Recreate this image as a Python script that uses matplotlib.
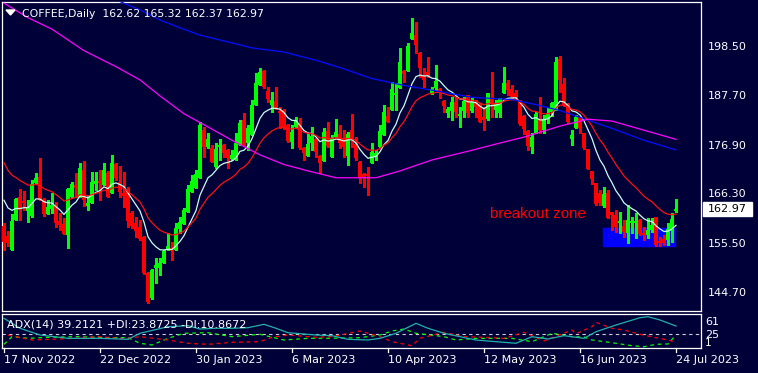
import matplotlib.pyplot as plt
from matplotlib.patches import Rectangle, Polygon
from matplotlib.lines import Line2D
import numpy as np

# COFFEE daily candles, 17 Nov 2022 .. 24 Jul 2023

opens = [
    159.4, 157.2, 154.1, 160.7, 165.7, 164.9, 162.7, 161.5, 168.8, 170.1,
    165.2, 162.0, 163.1, 164.0, 160.4, 159.8, 157.4, 165.7, 168.3, 165.7,
    171.6, 163.7, 164.4, 168.5, 169.2, 168.3, 171.0, 166.6, 172.9, 169.0,
    166.6, 167.2, 162.2, 160.0, 159.1, 157.0, 149.1, 143.6, 150.2, 150.2,
    151.3, 154.1, 154.5, 154.1, 158.7, 159.8, 162.4, 166.8, 167.7, 169.9,
    180.3, 176.6, 176.4, 172.3, 176.6, 177.1, 176.0, 174.0, 173.8, 177.1,
    182.5, 177.5, 179.3, 185.8, 190.2, 193.3, 188.9, 185.8, 186.7, 184.5,
    184.7, 181.4, 177.7, 181.0, 181.9, 176.4, 174.7, 177.5, 178.4, 174.7,
    173.6, 180.1, 174.4, 178.8, 179.5, 178.6, 174.7, 180.3, 177.3, 173.4,
    170.7, 170.7, 173.1, 174.4, 176.6, 179.3, 183.4, 184.7, 188.0, 189.5,
    193.3, 193.3, 200.2, 201.1, 197.2, 192.4, 193.0, 188.2, 189.5, 189.3,
    186.7, 184.1, 184.5, 186.5, 183.4, 184.5, 188.0, 184.5, 186.3, 186.0,
    183.2, 182.7, 187.3, 184.7, 184.1, 188.4, 190.6, 189.3, 188.4, 186.5,
    183.4, 180.1, 176.6, 179.7, 182.7, 180.3, 182.7, 184.3, 184.9, 195.9,
    190.4, 185.8, 178.4, 180.8, 183.2, 179.7, 176.2, 171.4, 168.8, 166.6,
    163.7, 166.6, 162.4, 161.8, 160.0, 159.4, 157.8, 160.0, 160.0, 160.7,
    157.8, 157.4, 158.5, 161.3, 156.1, 156.5, 156.3, 158.2, 162.62,
]
highs = [
    160.0, 158.3, 162.0, 165.4, 167.4, 167.1, 165.0, 169.4, 170.9, 174.2,
    165.5, 165.0, 166.6, 164.5, 162.2, 161.1, 167.7, 169.0, 170.9, 173.1,
    173.6, 166.1, 171.2, 171.2, 171.6, 173.1, 171.4, 174.9, 173.1, 172.5,
    171.2, 167.9, 162.6, 161.3, 160.7, 157.2, 149.3, 149.9, 152.3, 152.3,
    154.1, 157.8, 155.8, 160.0, 161.3, 163.3, 168.3, 170.5, 171.6, 182.1,
    181.0, 179.7, 177.0, 177.5, 178.4, 177.3, 176.2, 176.0, 179.7, 182.5,
    184.0, 181.4, 186.9, 192.8, 193.9, 193.5, 189.8, 188.7, 189.8, 185.4,
    184.9, 181.6, 181.4, 183.2, 183.0, 176.6, 179.7, 181.0, 178.6, 174.9,
    180.8, 182.1, 179.3, 182.7, 181.4, 180.3, 179.9, 183.8, 178.8, 173.6,
    170.9, 172.3, 177.5, 176.0, 181.4, 185.8, 185.4, 190.9, 190.6, 198.3,
    193.5, 199.4, 204.8, 204.0, 197.4, 193.9, 196.3, 189.8, 194.6, 189.5,
    186.9, 185.4, 187.6, 187.6, 185.4, 187.6, 188.0, 187.3, 186.9, 186.3,
    185.4, 188.5, 193.0, 186.9, 187.3, 194.1, 191.3, 190.2, 189.1, 186.9,
    183.6, 180.3, 179.7, 184.3, 187.6, 183.6, 185.2, 186.5, 196.3, 196.5,
    191.7, 186.3, 180.3, 183.6, 183.2, 179.7, 176.2, 171.4, 168.8, 167.2,
    167.9, 167.2, 162.4, 162.9, 162.4, 160.7, 163.9, 161.3, 162.2, 160.9,
    159.1, 161.1, 161.1, 161.3, 156.9, 157.4, 160.0, 162.2, 165.32,
]
lows = [
    154.1, 155.0, 154.1, 160.7, 160.7, 162.9, 160.2, 161.3, 168.8, 165.0,
    161.6, 162.0, 162.2, 159.2, 158.5, 157.6, 154.5, 165.7, 165.7, 165.7,
    163.7, 162.9, 164.4, 167.2, 165.0, 168.3, 165.7, 166.6, 169.4, 165.7,
    163.5, 159.2, 159.0, 157.0, 156.3, 148.9, 142.5, 143.4, 146.9, 148.6,
    151.3, 154.1, 151.9, 154.1, 157.8, 159.8, 162.4, 166.8, 167.7, 169.9,
    174.4, 176.4, 173.4, 172.0, 173.8, 174.4, 172.0, 173.8, 173.8, 177.1,
    176.8, 176.0, 179.3, 185.8, 190.2, 189.6, 186.5, 184.3, 185.0, 180.8,
    180.6, 177.7, 176.4, 181.0, 176.2, 173.8, 174.7, 176.0, 174.4, 170.9,
    173.6, 176.6, 174.4, 178.8, 176.4, 174.4, 172.7, 176.6, 173.8, 168.8,
    167.9, 166.1, 173.1, 173.8, 176.6, 179.3, 182.1, 184.7, 184.7, 189.5,
    190.9, 193.3, 200.2, 197.2, 191.9, 189.8, 191.9, 188.2, 189.1, 187.3,
    184.3, 183.2, 182.5, 183.2, 181.0, 183.2, 183.2, 184.3, 183.2, 182.1,
    180.3, 182.5, 183.2, 183.2, 183.2, 188.4, 188.0, 187.3, 186.9, 181.4,
    179.5, 176.0, 175.3, 179.7, 179.7, 179.7, 181.9, 183.4, 184.7, 188.7,
    185.6, 181.9, 177.1, 180.8, 179.7, 176.2, 171.8, 168.5, 164.0, 164.0,
    163.5, 161.1, 158.5, 158.0, 157.8, 157.0, 155.6, 157.8, 156.7, 157.4,
    156.3, 156.7, 158.0, 155.0, 155.0, 155.2, 155.2, 155.9, 162.37,
]
closes = [
    155.9, 155.7, 160.4, 165.2, 162.9, 164.3, 163.3, 168.5, 169.8, 165.0,
    162.0, 163.5, 164.0, 160.0, 159.6, 157.6, 167.4, 168.5, 167.7, 172.0,
    165.0, 164.4, 169.0, 169.2, 168.8, 171.6, 165.7, 173.1, 169.9, 166.8,
    165.9, 160.4, 159.4, 158.3, 156.5, 149.1, 142.7, 149.7, 150.8, 151.3,
    153.9, 155.0, 153.9, 158.9, 160.2, 162.9, 167.4, 169.2, 170.7, 181.4,
    176.6, 178.4, 173.4, 176.2, 177.1, 175.3, 174.2, 174.9, 177.5, 181.9,
    177.1, 180.8, 185.8, 190.6, 193.0, 189.8, 187.1, 186.9, 185.0, 184.1,
    180.8, 177.9, 179.9, 182.3, 176.4, 175.3, 177.3, 179.0, 175.5, 173.1,
    179.9, 176.8, 178.6, 179.9, 177.5, 176.6, 179.5, 178.2, 174.2, 169.9,
    170.1, 170.3, 175.5, 175.3, 180.1, 184.3, 182.1, 189.3, 188.5, 195.2,
    192.6, 198.7, 201.6, 198.9, 193.9, 191.3, 192.4, 189.3, 191.1, 188.5,
    185.6, 185.0, 186.5, 184.3, 183.8, 186.7, 184.1, 186.5, 185.4, 182.1,
    182.5, 188.4, 186.0, 186.3, 187.3, 190.6, 189.1, 187.6, 187.6, 181.7,
    180.6, 176.8, 178.8, 183.8, 180.3, 182.7, 184.1, 186.3, 195.2, 191.3,
    185.8, 182.1, 179.3, 183.2, 180.8, 176.4, 171.8, 169.6, 164.2, 164.4,
    166.3, 161.1, 161.8, 159.1, 160.4, 158.0, 160.7, 160.4, 160.4, 157.6,
    157.4, 158.5, 159.6, 155.2, 155.6, 155.6, 158.7, 160.9, 162.97,
]

# moving averages: EMA10 (white) and EMA20 (red) continue from the values on the left edge
fast_period, fast_seed = 10, 167.0
slow_period, slow_seed = 20, 175.0

# long moving averages at a few bars
blue_idx = [26, 28, 34, 39, 44, 49, 57, 62, 70, 78, 84, 92, 100, 108, 117, 127,
            133, 139, 146, 152, 160, 168]
blue_val = [209.5, 208.8, 206.6, 204.4, 202.7, 201.1, 199.4, 198.3, 197.4, 195.6,
            194.0, 191.6, 190.1, 188.9, 187.5, 187.0, 185.9, 184.6, 182.5, 180.7,
            178.1, 176.0]
magenta_idx = [0, 6, 12, 20, 28, 34, 39, 45, 50, 57, 64, 70, 76, 83, 93, 99, 107,
               116, 124, 130, 139, 146, 152, 160, 168]
magenta_val = [208.1, 204.9, 202.4, 197.7, 194.2, 191.3, 187.8, 183.9, 181.5, 178.1,
               174.9, 172.8, 171.4, 169.9, 169.9, 171.4, 173.8, 175.7, 177.5, 178.8,
               181.2, 182.7, 182.3, 180.3, 178.3]

# ADX(14) window
adx_idx = [0, 4, 9, 16, 24, 31, 34, 41, 46, 49, 53, 57, 61, 65, 68, 71, 78, 82, 86,
           91, 94, 98, 103, 106, 110, 114, 118, 123, 128, 132, 136, 140, 145, 148,
           153, 159, 161, 164, 168]
adx_val = [52.6, 35.3, 23.6, 17.8, 17.8, 16.1, 26.6, 38.0, 39.8, 34.0, 35.3, 35.3,
           36.3, 42.2, 35.3, 27.6, 23.6, 22.4, 16.1, 14.9, 17.8, 26.6, 43.9, 35.3,
           26.6, 20.7, 14.9, 12.0, 9.2, 20.7, 16.7, 22.4, 17.8, 29.3, 41.0, 53.7,
           55.4, 49.7, 39.2]
plus_idx = [0, 2, 6, 11, 18, 26, 31, 34, 37, 41, 45, 51, 57, 64, 70, 76, 82, 89, 94,
            97, 100, 103, 110, 113, 118, 127, 132, 137, 142, 145, 147, 152, 157, 160,
            163, 166, 168]
plus_val = [7.4, 20.7, 17.8, 19.6, 20.7, 19.0, 19.0, 9.2, 6.2, 17.8, 26.6, 27.6,
            20.7, 24.8, 14.9, 17.8, 18.0, 18.9, 23.6, 30.6, 34.0, 26.6, 20.7, 14.9,
            17.8, 17.8, 12.0, 26.6, 20.7, 20.0, 14.9, 10.2, 5.0, 3.3, 7.4, 8.0, 23.9]
minus_idx = [1, 7, 14, 18, 24, 30, 34, 41, 46, 51, 57, 64, 67, 71, 78, 82, 89, 94, 97,
             102, 104, 110, 115, 120, 125, 130, 135, 142, 143, 147, 148, 152, 155,
             159, 163, 166, 168]
minus_val = [23.6, 14.9, 16.7, 18.0, 20.7, 17.0, 20.7, 14.9, 9.2, 7.4, 10.9, 12.0,
             19.6, 23.6, 19.6, 20.7, 30.6, 20.7, 12.0, 5.0, 18.0, 28.3, 20.7, 19.6,
             17.8, 28.3, 13.2, 32.3, 26.0, 38.0, 45.7, 35.3, 32.3, 24.8, 18.9, 14.9,
             10.9]

price_ticks = [198.50, 187.70, 176.90, 166.30, 155.50, 144.70]
date_idx = [0, 24, 48, 72, 96, 120, 144, 168]
date_labels = ["17 Nov 2022", "22 Dec 2022", "30 Jan 2023", "6 Mar 2023",
               "10 Apr 2023", "12 May 2023", "16 Jun 2023", "24 Jul 2023"]

zone_start, zone_end = 149.7, 167.75
zone_low, zone_high = 155.0, 159.0

BG = "#000038"
W, H = 758, 373


def fx(px):
    return px / W


def fy(py):
    return 1 - py / H


def ema(values, period, seed):
    alpha = 2.0 / (period + 1)
    out = []
    prev = seed
    for v in values:
        prev = prev + alpha * (v - prev)
        out.append(prev)
    return out


plt.rcParams["font.family"] = "DejaVu Sans"
plt.rcParams["font.size"] = 8

fig = plt.figure(figsize=(W / 100, H / 100), dpi=100)
fig.patch.set_facecolor(BG)

ax = fig.add_axes([fx(2), fy(311), 699 / W, 309 / H])
sub = fig.add_axes([fx(2), fy(348), 699 / W, 34.5 / H])

for a in (ax, sub):
    a.set_facecolor(BG)
    a.set_xticks([])
    a.set_yticks([])
    for s in a.spines.values():
        s.set_color("white")
        s.set_linewidth(0.9)
    a.set_xlim(-0.5, 174.25)

ax.set_ylim(140.76, 208.34)
sub.set_ylim(1, 61)

# candles (drawn without smoothing so bodies stay 3 px wide like the terminal)
x = np.arange(len(closes))
o = np.array(opens)
c = np.array(closes)
up = c >= o
cols = np.where(up, "#00ff00", "#ff0000")
ax.vlines(x, lows, highs, colors=cols, linewidth=0.75, zorder=3,
          antialiased=False)
body_h = np.maximum(np.abs(c - o), 0.25)
ax.bar(x, body_h, bottom=np.minimum(o, c), width=0.78, color=cols,
       linewidth=0, zorder=4, antialiased=False)

# breakout zone
ax.add_patch(Rectangle((zone_start, zone_low), zone_end - zone_start,
                       zone_high - zone_low, color="#0000ff", zorder=2))
fig.text(fx(490), fy(218.5), "breakout zone", color="#ff0000", fontsize=10.9,
         family="Liberation Sans", va="baseline", ha="left")

# moving averages
ax.plot(x, ema(closes, fast_period, fast_seed), color="#c8fff0", lw=0.9, zorder=5)
ax.plot(x, ema(closes, slow_period, slow_seed), color="#ff1010", lw=0.9, zorder=5)
ax.plot(blue_idx, blue_val, color="#0010ff", lw=0.9, zorder=5)
ax.plot(magenta_idx, magenta_val, color="#ff00ff", lw=0.9, zorder=5)

# price scale
for v in price_ticks:
    ax.text(1 + 7 / 699, v, f"{v:.2f}", transform=ax.get_yaxis_transform(),
            color="white", va="center", ha="left", clip_on=False)

# current price box
fig.patches.append(Rectangle((fx(702.7), fy(215.7)), 49.6 / W, 14 / H,
                             transform=fig.transFigure, color="white"))
fig.text(fx(727.5), fy(209), f"{closes[-1]:.2f}", color="black",
         ha="center", va="center")

# title
fig.patches.append(Polygon([(fx(6), fy(10)), (fx(15), fy(10)), (fx(10.5), fy(15))],
                           closed=True, transform=fig.transFigure, color="white"))
fig.text(fx(22), fy(17.3), "COFFEE,Daily  %.2f %.2f %.2f %.2f"
         % (opens[-1], highs[-1], lows[-1], closes[-1]),
         color="white", va="baseline", ha="left", fontsize=7.8)

# ADX window
sub.axhline(25, color="#d0d0d0", lw=0.8, ls=(0, (3, 3)), zorder=1)
sub.plot(adx_idx, adx_val, color="#20b2aa", lw=0.9, zorder=3)
sub.plot(plus_idx, plus_val, color="#00ff00", lw=0.9, ls=(0, (3, 3)), zorder=2)
sub.plot(minus_idx, minus_val, color="#ff0000", lw=0.9, ls=(0, (3, 3)), zorder=2)
fig.text(fx(7), fy(327.5), "ADX(14) 39.2121 +DI:23.8725 -DI:10.8672",
         color="white", va="baseline", ha="left", zorder=5)
# the terminal stacks the "25" and "1" labels tightly at the bottom of the window
fig.text(fx(705), fy(321.7), "61", color="white", va="center", ha="left")
fig.text(fx(705), fy(335), "25", color="white", va="center", ha="left")
fig.text(fx(705), fy(343.5), "1", color="white", va="center", ha="left",
         fontsize=7.5)

# time scale
for i, lab in zip(date_idx, date_labels):
    xp = 4 + 4 * i
    fig.add_artist(Line2D([fx(xp), fx(xp)], [fy(348), fy(352)],
                          transform=fig.transFigure, color="white", lw=0.9))
    fig.text(fx(xp), fy(360), lab, color="white", va="center", ha="left")

fig.savefig("out.png", dpi=100, facecolor=BG)
